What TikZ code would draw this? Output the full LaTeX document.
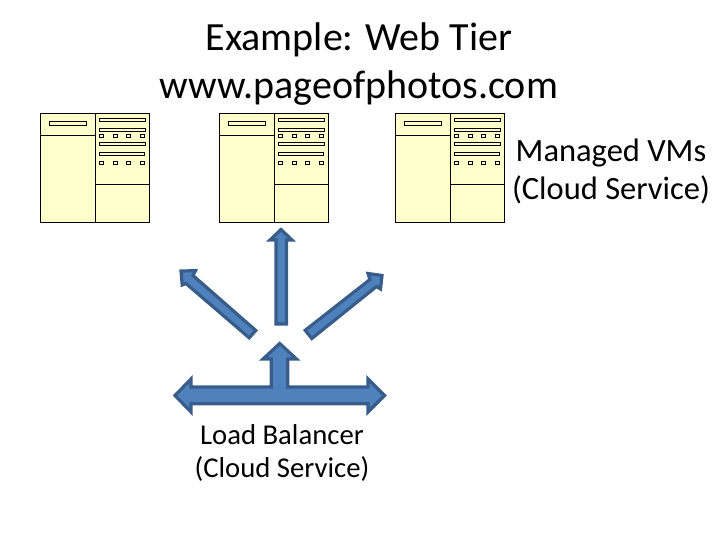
\documentclass[tikz,border=0pt]{standalone}
\usepackage{fontspec}
\setmainfont{Carlito}
\usepackage{tikz}
\usetikzlibrary{positioning}
\definecolor{panelfill}{HTML}{FFFFCC}
\definecolor{arrowfill}{HTML}{4F81BD}
\definecolor{arrowline}{HTML}{385D8A}

\begin{document}
\begin{tikzpicture}[
    x=1pt, y=-1pt,
    panel/.style={draw=black, fill=panelfill, line width=0.9pt},
    slot/.style={draw=black, fill=panelfill, line width=0.8pt},
    bigarrow/.style={draw=arrowline, fill=arrowfill, line width=3.2pt, line join=miter},
    title/.style={font=\fontsize{40}{48}\selectfont, align=center, inner sep=0pt},
    caption/.style={font=\fontsize{32.5}{38}\selectfont, align=center, inner sep=0pt},
    smallcaption/.style={font=\fontsize{28.7}{33}\selectfont, align=center, inner sep=0pt}
  ]
    \useasboundingbox (0,0) rectangle (720,540);

    % managed VMs
    \foreach \x in {40,219,395} {
      \begin{scope}[xshift=\x pt, yshift=-113pt]
        \draw[panel] (0,0) rectangle (109,109);
        \draw[panel] (55,0) -- (55,109);
        \draw[panel] (0,22) -- (55,22);
        \draw[panel] (55,71) -- (109,71);
        \draw[slot] (9.5,8) rectangle (46.5,12);
        \foreach \y/\w in {7/105,17/105,31/105,41/104}
          \draw[slot] (59,\y-1.1) rectangle (\w,\y+1.1);
        \foreach \y in {21,48}
          \foreach \s in {59,73,86.5,100.5}
            \draw[slot] (\s,\y) rectangle (\s+4,\y+3.5);
      \end{scope}
    }

    % arrows
    \draw[bigarrow] (281,229.5) -- (292,240) -- (286.4,240) -- (286.4,324)
      -- (276,324) -- (276,240) -- (270,240) -- cycle;
    \draw[bigarrow] (181,271) -- (195.5,270.7) -- (193,275.5) -- (255.8,330.5)
      -- (249.2,337.8) -- (186,283.5) -- (182.2,285) -- cycle;
    \draw[bigarrow] (382,275.5) -- (380.5,289) -- (376.5,286.5) -- (311.8,338.5)
      -- (305.2,330.3) -- (370,279.5) -- (368,273.5) -- cycle;
    \draw[bigarrow] (279.7,343.5) -- (296.5,359) -- (287.7,359) -- (287.7,387)
      -- (368,387) -- (368,379) -- (384.5,395.5) -- (368,412)
      -- (368,403.7) -- (191,403.7) -- (191,412) -- (175,395.5)
      -- (191,379) -- (191,387) -- (271.3,387) -- (271.3,359)
      -- (263,359) -- cycle;

    \node[title] (heading) at (359,64.5) {Example: Web Tier\\www.pageofphotos.com};
    \node[caption] (vmlabel) at (611,171) {Managed VMs\\(Cloud Service)};
    \node[smallcaption] (lblabel) at (282,453) {Load Balancer\\(Cloud Service)};
  \end{tikzpicture}
\end{document}
